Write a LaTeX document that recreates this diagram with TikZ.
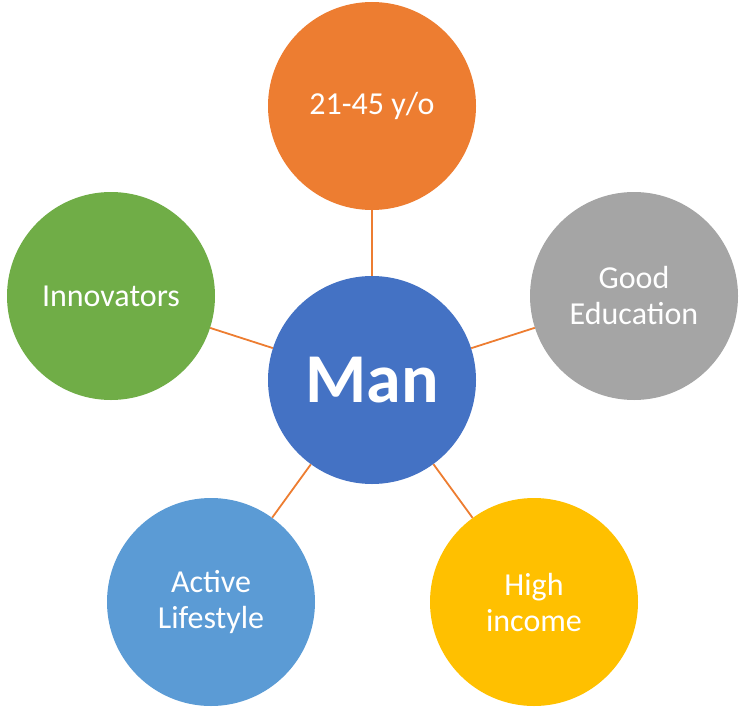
\documentclass[tikz,border=0pt]{standalone}
\usepackage{fontspec}
\setmainfont{Carlito}
\definecolor{corange}{HTML}{ED7D31}
\definecolor{cgray}{HTML}{A5A5A5}
\definecolor{cgreen}{HTML}{70AD47}
\definecolor{cblue}{HTML}{4472C4}
\definecolor{clblue}{HTML}{5B9BD5}
\definecolor{cyellow}{HTML}{FFC000}
\begin{document}
\begin{tikzpicture}[x=1pt,y=-1pt,
  bubble/.style={circle,minimum size=208pt,inner sep=0pt,text=white,align=center,
    font=\fontsize{32}{36}\selectfont},
  link/.style={corange,line width=1.8pt}]
\useasboundingbox (0,0) rectangle (743,709);
\node[bubble,fill=cblue,font=\fontsize{70}{80}\selectfont\bfseries] (man) at (372,380) {Man};
\node[bubble,fill=corange] (age) at (372,106) {21-45 y/o};
\node[bubble,fill=cgray] (edu) at (634,296) {Good\\Education};
\node[bubble,fill=cgreen] (inn) at (111,296) {Innovators};
\node[bubble,fill=clblue] (act) at (211,602) {Active\\Lifestyle};
\node[bubble,fill=cyellow] (inc) at (534,602) {High\\income};
\draw[link] (man) -- (age);
\draw[link] (man) -- (edu);
\draw[link] (man) -- (inn);
\draw[link] (man) -- (act);
\draw[link] (man) -- (inc);
\end{tikzpicture}
\end{document}
